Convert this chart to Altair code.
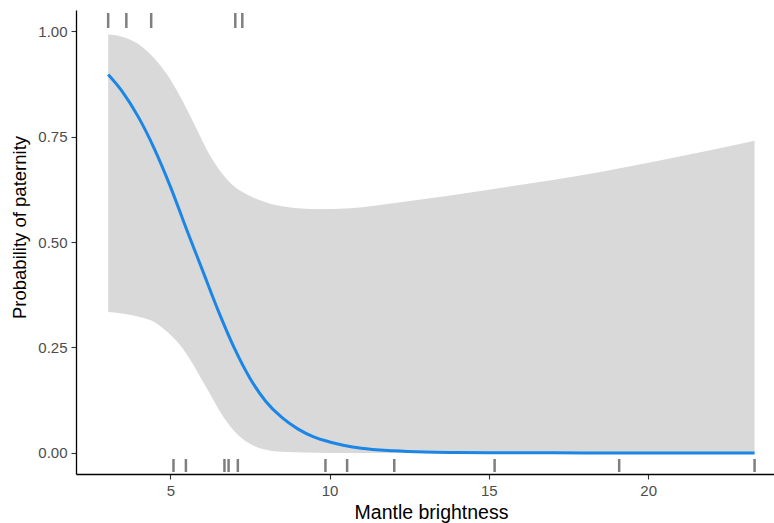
import altair as alt
import pandas as pd

# fitted probability curve
fit_x = [3.05, 3.5, 4.0, 4.5, 5.0, 5.5, 6.0, 6.5, 7.0, 7.5, 8.0, 8.5, 9.0, 9.5, 10.0,
         11.0, 12.0, 13.0, 14.0, 15.0, 16.0, 17.0, 18.0, 19.0, 20.0, 21.0, 22.0, 23.34]
fit_y = [0.897, 0.856, 0.796, 0.721, 0.632, 0.532, 0.435, 0.338, 0.250, 0.177, 0.122, 0.084,
         0.057, 0.038, 0.026, 0.011, 0.005, 0.002, 0.001, 0.0004, 0.0002, 0.0001, 0.0, 0.0,
         0.0, 0.0, 0.0, 0.0]

# confidence band
band_x = [3.05, 3.43, 3.85, 4.16, 4.48, 4.90, 5.31, 5.63, 5.94, 6.26, 6.57, 6.99, 7.51,
          8.04, 8.66, 9.61, 10.65, 11.4, 12.22, 15.36, 18.5, 21.6, 23.34]
band_upper = [0.992, 0.988, 0.976, 0.960, 0.937, 0.897, 0.845, 0.798, 0.750, 0.703, 0.668,
              0.633, 0.609, 0.593, 0.583, 0.578, 0.580, 0.586, 0.594, 0.628, 0.666, 0.712,
              0.740]
band_lower = [0.334, 0.331, 0.326, 0.320, 0.311, 0.287, 0.255, 0.220, 0.180, 0.138, 0.097,
              0.053, 0.021, 0.007, 0.002, 0.0005, 0.0, 0.0, 0.0, 0.0, 0.0, 0.0, 0.0]

# observations shown as rugs (top: paternity, bottom: none)
rug_top = [3.05, 3.62, 4.40, 7.04, 7.26]
rug_bottom = [5.10, 5.49, 6.70, 6.83, 7.12, 9.87, 10.55, 12.03, 15.18, 19.09, 23.34]

y_ticks = [0.0, 0.25, 0.5, 0.75, 1.0]
x_ticks = [5, 10, 15, 20]

fit_df = pd.DataFrame({"x": fit_x, "fit": fit_y})
band_df = pd.DataFrame({"x": band_x, "upper": band_upper, "lower": band_lower})
top = pd.DataFrame({"x": rug_top})
bottom = pd.DataFrame({"x": rug_bottom})

W, H = 698, 464
FONT = "Liberation Sans"
xscale = alt.Scale(domain=[2.04, 23.95], nice=False, zero=False)
yscale = alt.Scale(domain=[-0.05, 1.05], nice=False, zero=False)

xaxis = alt.Axis(values=x_ticks, title="Mantle brightness", grid=False,
                 domainColor="black", domainWidth=1.3, tickColor="#333333", tickSize=5,
                 tickWidth=1.1,
                 labelColor="#4d4d4d", labelFontSize=15, labelPadding=4,
                 labelFont=FONT, titleFont=FONT,
                 titleFontSize=19.5, titleFontWeight="normal", titleColor="black",
                 titlePadding=5, titleX=355)
yaxis = alt.Axis(values=y_ticks, format=".2f", title="Probability of paternity", grid=False,
                 domainColor="black", domainWidth=1.3, tickColor="#333333", tickSize=5,
                 tickWidth=1.1,
                 labelColor="#4d4d4d", labelFontSize=15, labelPadding=4,
                 labelFont=FONT, titleFont=FONT,
                 titleFontSize=18.5, titleFontWeight="normal", titleColor="black",
                 titlePadding=8, titleY=217)

band = alt.Chart(band_df).mark_area(color="#d9d9d9", interpolate="monotone").encode(
    x=alt.X("x:Q", scale=xscale, axis=xaxis),
    y=alt.Y("upper:Q", scale=yscale, axis=yaxis),
    y2="lower:Q",
)
line = alt.Chart(fit_df).mark_line(color="#1b86e6", strokeWidth=3, interpolate="monotone").encode(
    x=alt.X("x:Q", scale=xscale),
    y=alt.Y("fit:Q", scale=yscale),
)
rt = alt.Chart(top).mark_rule(color="#7f7f7f", strokeWidth=2.5).encode(
    x=alt.X("x:Q", scale=xscale), y=alt.value(3), y2=alt.value(18)
)
rb = alt.Chart(bottom).mark_rule(color="#7f7f7f", strokeWidth=2.5).encode(
    x=alt.X("x:Q", scale=xscale), y=alt.value(449), y2=alt.value(462)
)

chart = alt.layer(band, line, rt, rb).properties(
    width=W, height=H,
    background="white",
    autosize=alt.AutoSizeParams(type="none"),
    padding={"left": 76, "top": 10, "right": 0, "bottom": 49},
).configure_view(strokeWidth=0, stroke=None)

chart.save("out.html", embed_options={"renderer": "svg", "actions": False})
